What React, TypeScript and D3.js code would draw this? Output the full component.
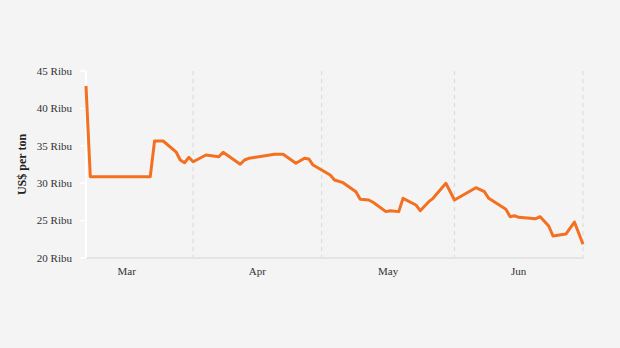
import React from "react";
import * as d3 from "d3";

const dates: string[] = [
  "2022-03-07","2022-03-08","2022-03-22","2022-03-23","2022-03-25","2022-03-28","2022-03-29","2022-03-30","2022-03-31",
  "2022-04-01","2022-04-04","2022-04-07","2022-04-08","2022-04-12","2022-04-13","2022-04-14","2022-04-20","2022-04-22",
  "2022-04-25","2022-04-27","2022-04-28","2022-04-29","2022-05-03","2022-05-04","2022-05-06","2022-05-09","2022-05-10",
  "2022-05-12","2022-05-13","2022-05-16","2022-05-17","2022-05-19","2022-05-20","2022-05-23","2022-05-24","2022-05-26",
  "2022-05-27","2022-05-30","2022-06-01","2022-06-06","2022-06-08","2022-06-09","2022-06-13","2022-06-14","2022-06-15",
  "2022-06-16","2022-06-20","2022-06-21","2022-06-23","2022-06-24","2022-06-27","2022-06-29","2022-07-01"
];
const prices: number[] = [
  43.0,30.87,30.87,35.64,35.64,34.2,33.1,32.74,33.46,
  32.87,33.77,33.54,34.13,32.53,33.1,33.33,33.86,33.86,
  32.66,33.33,33.24,32.43,31.1,30.43,30.07,28.86,27.85,
  27.75,27.45,26.2,26.32,26.2,27.98,27.09,26.32,27.53,
  27.98,29.99,27.75,29.4,28.86,27.98,26.51,25.52,25.65,
  25.44,25.25,25.52,24.28,22.94,23.2,24.81,21.83
];
const yTicks: number[] = [20, 25, 30, 35, 40, 45];
const monthStarts: string[] = ["2022-03-01","2022-04-01","2022-05-01","2022-06-01","2022-07-01"];
const monthLabels: string[] = ["Mar", "Apr", "May", "Jun"];
const gridDates: string[] = ["2022-04-01","2022-05-01","2022-06-01","2022-07-01"];

const W = 620, H = 348;
const left = 86, right = 583, top = 71, bottom = 258;

export default function App() {
  const parse = d3.utcParse("%Y-%m-%d");
  const data = dates.map((d, i) => ({ date: parse(d) as Date, v: prices[i] }));
  const x = d3.scaleUtc().domain([parse("2022-03-07") as Date, parse("2022-07-01") as Date]).range([left, right]);
  const y = d3.scaleLinear().domain([20, 45]).range([bottom, top]);
  const line = d3.line<{ date: Date; v: number }>().x(d => x(d.date)).y(d => y(d.v));
  const ms = monthStarts.map(d => parse(d) as Date);
  const font = "'Liberation Serif', 'Times New Roman', serif";
  return (
    <svg width={W} height={H} style={{ position: "absolute", left: 0, top: 0, background: "#f4f4f4" }} fontFamily={font}>
      <rect x={0} y={0} width={W} height={H} fill="#f4f4f4" />
      {gridDates.map(g => (
        <line key={g} x1={x(parse(g) as Date)} x2={x(parse(g) as Date)} y1={top} y2={bottom + 4}
          stroke="#dcdcdc" strokeWidth={1.2} strokeDasharray="4,4" />
      ))}
      <line x1={left} x2={right} y1={bottom} y2={bottom} stroke="#e4e4e4" strokeWidth={2} />
      <line x1={left} x2={left} y1={top} y2={bottom} stroke="#ffffff" strokeWidth={2} />
      {yTicks.map(t => (
        <g key={t}>
          <line x1={left - 6} x2={left} y1={y(t)} y2={y(t)} stroke="#ffffff" strokeWidth={1.5} />
          <text x={left - 14} y={y(t)} dy="0.35em" textAnchor="end" fontSize={11} fill="#333">{`${t} Ribu`}</text>
        </g>
      ))}
      {monthLabels.map((m, i) => (
        <text key={m} x={(x(ms[i]) + x(ms[i + 1])) / 2} y={bottom + 17} textAnchor="middle" fontSize={11} fill="#333">{m}</text>
      ))}
      <text transform={`translate(26,${(top + bottom) / 2}) rotate(-90)`} textAnchor="middle" fontSize={12} fontWeight="bold" fill="#222">US$ per ton</text>
      <path d={line(data) || ""} fill="none" stroke="#f37021" strokeWidth={3} strokeLinejoin="round" />
    </svg>
  );
}
